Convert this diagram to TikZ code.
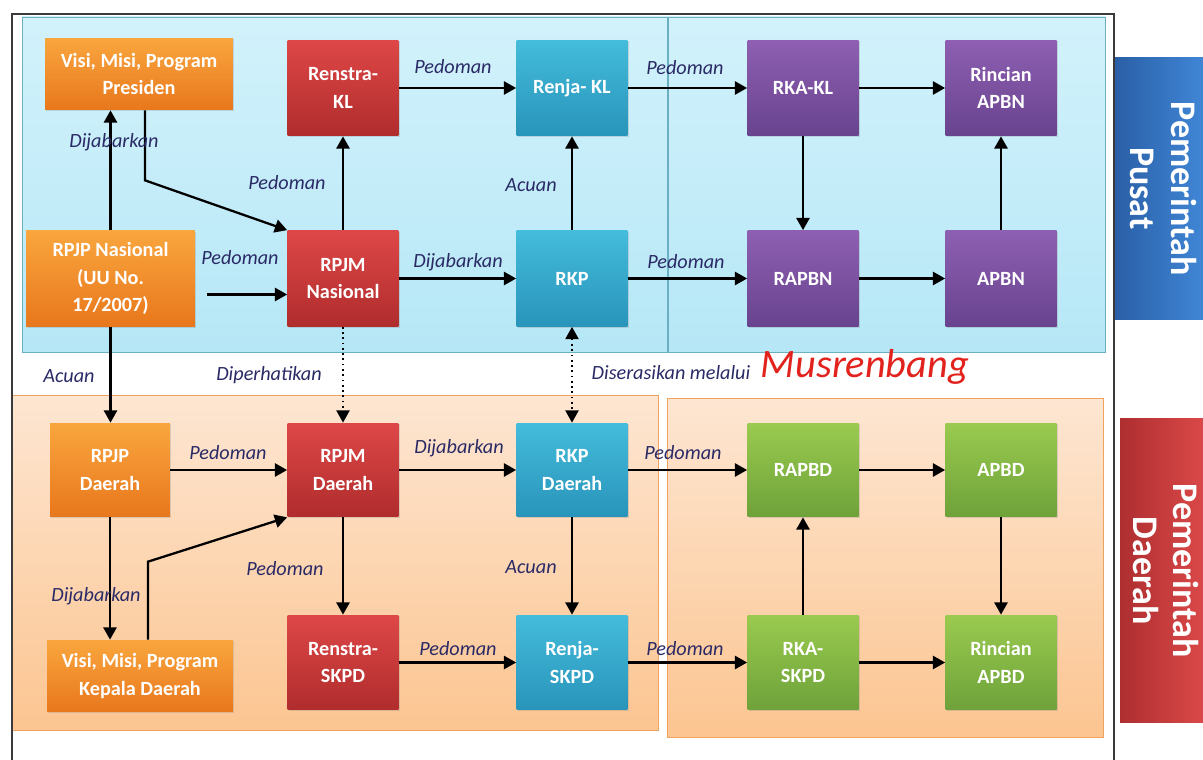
\documentclass[tikz,border=0pt]{standalone}
\usepackage{fontspec}
\setmainfont{Carlito}
\usepackage{tikz}
\usetikzlibrary{arrows.meta,shadows}
\definecolor{lblblue}{HTML}{2A2A66}
\definecolor{framegray}{HTML}{3A3A3A}
\definecolor{cyanA}{HTML}{D2F2FB}
\definecolor{cyanB}{HTML}{B6E7F6}
\definecolor{cyanline}{HTML}{6AAFC2}
\definecolor{peachA}{HTML}{FDE6D2}
\definecolor{peachB}{HTML}{FCC591}
\definecolor{peachline}{HTML}{F0A35E}
\definecolor{orgA}{HTML}{F9A63E}
\definecolor{orgB}{HTML}{E8771C}
\definecolor{redA}{HTML}{DE4747}
\definecolor{redB}{HTML}{B02C2D}
\definecolor{bluA}{HTML}{44BCDB}
\definecolor{bluB}{HTML}{2894BA}
\definecolor{purA}{HTML}{8E5FB2}
\definecolor{purB}{HTML}{68438E}
\definecolor{grnA}{HTML}{9ACA4F}
\definecolor{grnB}{HTML}{6EA23A}
\definecolor{pusatA}{HTML}{2A5FA6}
\definecolor{pusatB}{HTML}{4086D6}
\definecolor{daerahA}{HTML}{AE2E30}
\definecolor{daerahB}{HTML}{DA4848}
\definecolor{musred}{HTML}{E2231D}
\newcommand{\boxfont}{\fontsize{11.5}{15.5}\selectfont\bfseries}
\newcommand{\lblfont}{\fontsize{11.5}{14}\selectfont\itshape}
\newcommand{\sidetext}[2]{\rotatebox{-90}{\begin{tabular}{@{}c@{}}#1\\#2\end{tabular}}}
\tikzset{
  box/.style={rectangle, minimum width=2.22cm, minimum height=1.92cm, inner sep=1pt,
    align=center, text=white, font=\boxfont,
    drop shadow={opacity=0.25, shadow xshift=0.6pt, shadow yshift=-0.8pt}},
  orangebox/.style={box, top color=orgA, bottom color=orgB},
  redbox/.style={box, top color=redA, bottom color=redB},
  bluebox/.style={box, top color=bluA, bottom color=bluB},
  purplebox/.style={box, top color=purA, bottom color=purB},
  greenbox/.style={box, top color=grnA, bottom color=grnB},
  lbl/.style={font=\lblfont, text=lblblue, inner sep=0pt},
  flow/.style={->, line width=1.3pt},
  dotflow/.style={->, line width=1pt, dotted},
  sidebox/.style={rectangle, inner sep=0pt, text=white,
    font=\fontsize{20.5}{23}\selectfont\bfseries}
}
\begin{document}
\begin{tikzpicture}[x=0.02cm,y=-0.02cm,>={Triangle[length=7pt,width=7.5pt]}]
\useasboundingbox (0,0) rectangle (1203,760);
\fill[white] (0,0) rectangle (1203,760);
\draw[cyanline, top color=cyanA, bottom color=cyanB] (22,17) rectangle (1105,352);
\draw[cyanline, line width=0.8pt] (668,17) -- (668,352);
\draw[peachline, top color=peachA, bottom color=peachB] (12,395) rectangle (658,730);
\draw[peachline, top color=peachA, bottom color=peachB] (667,398) rectangle (1103,737);
\draw[framegray, line width=0.9pt] (12,760) -- (12,14) -- (1114,14) -- (1114,760);

\node[sidebox, minimum width=1.76cm, minimum height=5.26cm, left color=pusatA, right color=pusatB] (pusat) at (1159,188.5) {\sidetext{Pemerintah}{Pusat}};
\node[sidebox, minimum width=1.66cm, minimum height=6.1cm, left color=daerahA, right color=daerahB] (daerah) at (1161.5,570.5) {\sidetext{Pemerintah}{Daerah}};

\node[orangebox, minimum width=3.76cm, minimum height=1.44cm] (vpres) at (139,74) {Visi, Misi, Program\\Presiden};
\node[redbox] (renstrakl) at (343,88) {Renstra-\\KL};
\node[orangebox, minimum width=3.38cm] (rpjpn) at (110.5,278.5) {RPJP Nasional\\(UU No.\\17/2007)};
\node[redbox] (rpjmn) at (343,278.5) {RPJM\\Nasional};
\node[bluebox] (renjakl) at (572,88) {Renja- KL};
\node[bluebox] (rkp) at (572,278.5) {RKP};
\node[purplebox] (rkakl) at (803,88) {RKA-KL};
\node[purplebox] (rincapbn) at (1001,88) {Rincian\\APBN};
\node[purplebox] (rapbn) at (803,278.5) {RAPBN};
\node[purplebox] (apbn) at (1001,278.5) {APBN};

\node[orangebox, minimum width=2.4cm, minimum height=1.88cm] (rpjpd) at (110,470) {RPJP\\Daerah};
\node[redbox, minimum height=1.88cm] (rpjmd) at (343,470) {RPJM\\Daerah};
\node[orangebox, minimum width=3.72cm, minimum height=1.44cm] (vkd) at (140,676) {Visi, Misi, Program\\Kepala Daerah};
\node[redbox, minimum height=1.9cm] (renstraskpd) at (343,662.5) {Renstra-\\SKPD};
\node[bluebox, minimum height=1.88cm] (rkpd) at (572,470) {RKP\\Daerah};
\node[bluebox, minimum height=1.9cm] (renjaskpd) at (572,662.5) {Renja-\\SKPD};
\node[greenbox, minimum height=1.88cm] (rapbd) at (803,470) {RAPBD};
\node[greenbox, minimum height=1.88cm] (apbd) at (1001,470) {APBD};
\node[greenbox, minimum height=1.9cm] (rkaskpd) at (803,662.5) {RKA-\\SKPD};
\node[greenbox, minimum height=1.9cm] (rincapbd) at (1001,662.5) {Rincian\\APBD};

\draw[flow] (rpjpn.north) -- (rpjpn.north |- vpres.south);
\draw[flow] ([xshift=0.12cm]vpres.south) -- ++(0,70) -- (rpjmn.north west);
\draw[flow] (rpjmn) -- (renstrakl);
\draw[flow] ([xshift=0.24cm,yshift=-0.32cm]rpjpn.east) -- ([yshift=-0.32cm]rpjmn.west);
\draw[flow] (renstrakl) -- (renjakl);
\draw[flow] (rpjmn) -- (rkp);
\draw[flow] (rkp) -- (renjakl);
\draw[flow] (renjakl) -- (rkakl);
\draw[flow] (rkp) -- (rapbn);
\draw[flow] (rkakl) -- (rapbn);
\draw[flow] (rapbn) -- (apbn);
\draw[flow] (apbn) -- (rincapbn);
\draw[flow] (rkakl) -- (rincapbn);

\draw[flow] (rpjpn.south) -- (rpjpn.south |- rpjpd.north);
\draw[dotflow] (rpjmn) -- (rpjmd);
\draw[dotflow, <->] (rkp) -- (rkpd);

\draw[flow] (rpjpd) -- (rpjmd);
\draw[flow] (rpjpd.south) -- (rpjpd.south |- vkd.north);
\draw[flow] ([xshift=0.16cm]vkd.north) -- ++(0,-78) -- (rpjmd.south west);
\draw[flow] (rpjmd) -- (renstraskpd);
\draw[flow] (rpjmd) -- (rkpd);
\draw[flow] (rkpd) -- (renjaskpd);
\draw[flow] (renstraskpd) -- (renjaskpd);
\draw[flow] (rkpd) -- (rapbd);
\draw[flow] (renjaskpd) -- (rkaskpd);
\draw[flow] (rapbd) -- (apbd);
\draw[flow] (apbd) -- (rincapbd);
\draw[flow] (rkaskpd) -- (rapbd);
\draw[flow] (rkaskpd) -- (rincapbd);

\node[lbl] (l1) at (114,142) {Dijabarkan};
\node[lbl] (l2) at (287,183) {Pedoman};
\node[lbl] (l3) at (240,258) {Pedoman};
\node[lbl] (l4) at (453,67) {Pedoman};
\node[lbl] (l5) at (458,262) {Dijabarkan};
\node[lbl] (l6) at (531,185) {Acuan};
\node[lbl] (l7) at (685,68) {Pedoman};
\node[lbl] (l8) at (686,262) {Pedoman};
\node[lbl] (l9) at (69,376) {Acuan};
\node[lbl] (l10) at (269,375) {Diperhatikan};
\node[lbl] (l11) at (671,373) {Diserasikan melalui};
\node[font=\fontsize{23}{26}\selectfont\itshape, text=musred, inner sep=0pt] (musren) at (865,367) {Musrenbang};
\node[lbl] (l12) at (228,453) {Pedoman};
\node[lbl] (l13) at (96,596) {Dijabarkan};
\node[lbl] (l14) at (285,569) {Pedoman};
\node[lbl] (l15) at (459,448) {Dijabarkan};
\node[lbl] (l16) at (531,567) {Acuan};
\node[lbl] (l17) at (458,649) {Pedoman};
\node[lbl] (l18) at (683,453) {Pedoman};
\node[lbl] (l19) at (685,649) {Pedoman};
\end{tikzpicture}
\end{document}
